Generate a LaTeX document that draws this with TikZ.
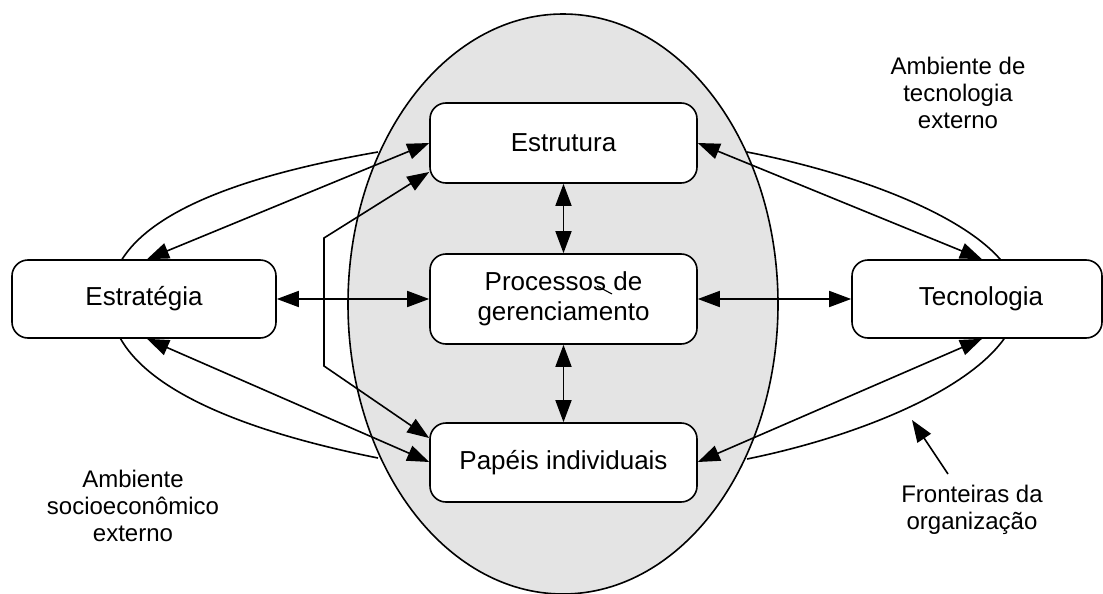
\documentclass[tikz,border=0pt]{standalone}
\usepackage{fontspec}
\setmainfont{Liberation Sans}
\usetikzlibrary{arrows.meta,calc,shapes.geometric}
\definecolor{orggray}{RGB}{228,228,228}
\begin{document}
\begin{tikzpicture}[x=1pt,y=-1pt,line width=1.6pt,
  box/.style={draw,fill=white,rounded corners=16pt,inner sep=0pt,align=center,
    font=\fontsize{26}{30}\selectfont},
  note/.style={align=center,inner sep=0pt,anchor=north,
    font=\fontsize{24}{27}\selectfont},
  arr/.style={{Triangle[length=22pt,width=16pt]}-{Triangle[length=22pt,width=16pt]}},
  onearr/.style={-{Triangle[length=22pt,width=16pt]}}]
\useasboundingbox (0,0) rectangle (1103,594);

% boundary lobes of the organization
\draw (378,152) .. controls (228,178) and (110,222) .. (110,300)
      .. controls (110,378) and (228,428) .. (378,458);
\draw (747,152) .. controls (880,178) and (1018,235) .. (1018,300)
      .. controls (1018,370) and (880,432) .. (747,459);

% organization ellipse
\node[draw,fill=orggray,ellipse,minimum width=430pt,minimum height=580pt,inner sep=0pt] (org) at (563,304) {};

% boxes
\node[box,minimum width=264pt,minimum height=78pt] (strat) at (144,299) {Estratégia};
\node[box,minimum width=250pt,minimum height=78pt] (tec) at (977,299) {\hspace*{8pt}Tecnologia};
\node[box,minimum width=267pt,minimum height=80pt] (estr) at (563.5,143) {Estrutura};
\node[box,minimum width=267pt,minimum height=90pt] (proc) at (563.5,299) {Processos de\\gerenciamento};
\node[box,minimum width=267pt,minimum height=79pt] (pap) at (563.5,462.5) {Papéis individuais};

% stray stroke over "Processos"
\draw[line width=1.1pt] (597,286) -- (612,294);

% connectors
\draw[arr] ([xshift=3pt]strat.north) -- (estr.west);
\draw[arr] (strat.east) -- (proc.west);
\draw[arr] ([xshift=3pt]strat.south) -- ($(pap.west)+(0,-0.5)$);
\coordinate (b1) at (324,238);
\coordinate (b2) at (324,366);
\draw[arr] ($(estr.west)+(0,29)$) -- (b1) -- (b2) -- ($(pap.west)+(0,-24.5)$);
\draw[arr] ([xshift=5pt]tec.north) -- (estr.east);
\draw[arr] (tec.west) -- (proc.east);
\draw[arr] ([xshift=5pt]tec.south) -- ($(pap.east)+(0,-0.5)$);
\draw[arr] (estr.south) -- (proc.north);
\draw[arr] (proc.south) -- (pap.north);

% labels
\node[note] (amtec) at (958,56) {Ambiente de\\tecnologia\\externo};
\node[note] (amsoc) at (133,469.5) {Ambiente\\socioeconômico\\externo};
\node[note] (front) at (972,484.5) {Fronteiras da\\organização};
\coordinate (ptail) at (948,474);
\coordinate (ptip) at (912,420);
\draw[onearr] (ptail) -- (ptip);
\end{tikzpicture}
\end{document}
